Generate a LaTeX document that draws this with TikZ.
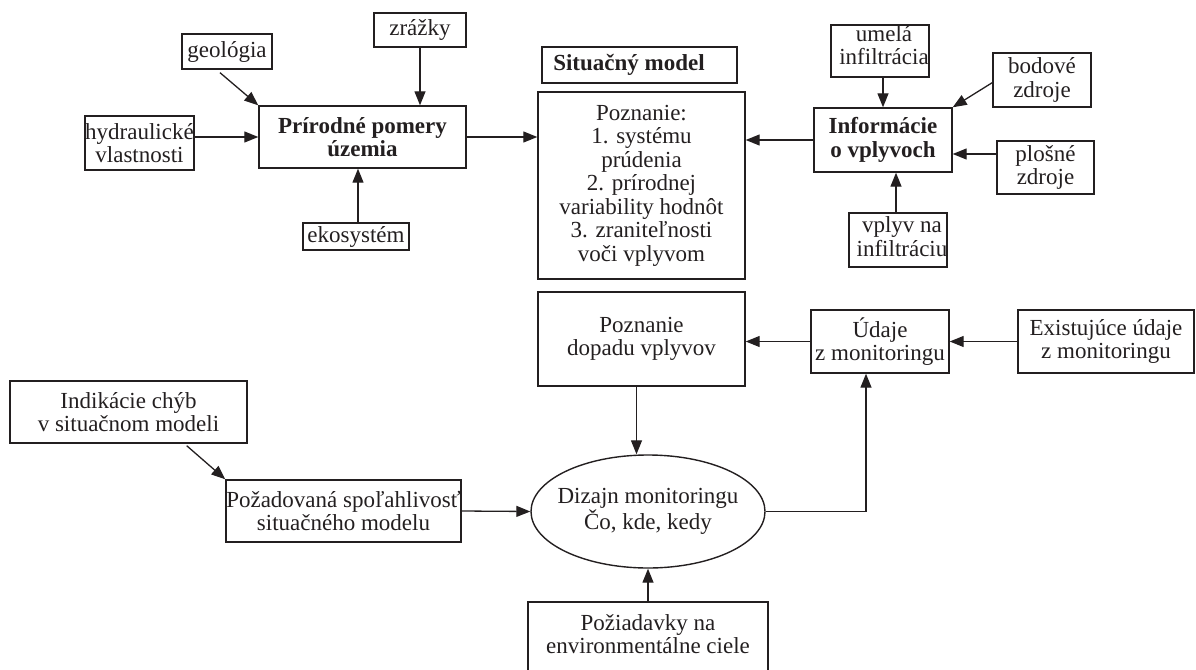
\documentclass[tikz,border=0pt]{standalone}
\usepackage{fontspec}
\setmainfont{Liberation Serif}
\usetikzlibrary{arrows.meta,calc,shapes.geometric}
\definecolor{ink}{RGB}{35,31,32}
\tikzset{
  box/.style 2 args={rectangle, draw=ink, line width=1.4pt, minimum width=#1pt, minimum height=#2pt, inner sep=0pt},
  oval/.style 2 args={ellipse, draw=ink, line width=1.4pt, minimum width=#1pt, minimum height=#2pt, inner sep=0pt},
  txt/.style={font=\fontsize{23}{23.5}\selectfont, text=ink, align=center, inner sep=0pt},
  txtb/.style={txt, font=\fontsize{23}{23.5}\selectfont\bfseries},
  conn/.style={draw=ink, line width=1.3pt, -{Triangle[length=14pt,width=11pt]}}
}
\begin{document}
\begin{tikzpicture}[x=1pt,y=-1pt]
\useasboundingbox (0,0) rectangle (1196,669);

% --- natural conditions and their inputs
\node[box={90}{35}, label={[txt]center:{geológia}}] (geo) at (227,51.5) {};
\node[box={109}{54}, label={[txt]center:{hydraulické\\vlastnosti}}] (hyd) at (139.5,143) {};
\node[box={207}{62}, label={[txtb]center:{Prírodné pomery\\územia}}] (prir) at (362.5,137) {};
\node[box={92}{34}, label={[txt]center:{zrážky}}] (zraz) at (420,30) {};
\node[box={106}{27}, label={[txt]center:{ekosystém}}] (eko) at (356,236.5) {};

% --- situation model
\node[box={195}{36}, label={[txtb,xshift=-10.5pt]center:{Situačný model}}] (sit) at (639.5,65) {};
\node[box={207}{187}, label={[txt]center:{Poznanie:\\1. systému\\prúdenia\\2. prírodnej\\variability hodnôt\\3. zraniteľnosti\\voči vplyvom}}] (pozn) at (641.5,185.5) {};

% --- information on impacts and their inputs
\node[box={138}{64}, label={[txtb]center:{Informácie\\o vplyvoch}}] (info) at (883,140) {};
\node[box={98}{52}, label={[txt,xshift=4pt,yshift=6pt]center:{umelá\\infiltrácia}}] (umela) at (880,51) {};
\node[box={98}{54}, label={[txt]center:{bodové\\zdroje}}] (bod) at (1042,80) {};
\node[box={97}{53}, label={[txt]center:{plošné\\zdroje}}] (plos) at (1045.5,167.5) {};
\node[box={98}{54}, label={[txt,xshift=4pt,yshift=3.5pt]center:{vplyv na\\infiltráciu}}] (vpl) at (898,240) {};

% --- monitoring loop
\node[box={207}{94}, label={[txt]center:{Poznanie\\dopadu vplyvov}}] (dop) at (641.5,339) {};
\node[box={138}{63}, label={[txt]center:{Údaje\\z monitoringu}}] (uda) at (880,341.5) {};
\node[box={176}{63}, label={[txt]center:{Existujúce údaje\\z monitoringu}}] (exi) at (1106,341.5) {};
\node[box={237}{62}, label={[txt]center:{Indikácie chýb\\v situačnom modeli}}] (ind) at (128.5,412) {};
\node[box={235}{62}, label={[txt]center:{Požadovaná spoľahlivosť\\situačného modelu}}] (poz) at (343.5,511) {};
\node[oval={234}{113}, label={[txt]center:{Dizajn monitoringu\\Čo, kde, kedy}}] (ell) at (648,511.5) {};
\node[box={240}{70}, label={[txt,yshift=3pt]center:{Požiadavky na\\environmentálne ciele}}] (ciele) at (648,637) {};

% --- connector end points that sit off the anchors
\coordinate (ekotop) at ($(eko.north)+(2,0)$);
\coordinate (vpltop) at ($(vpl.north)+(-2,0)$);
\coordinate (dopbot) at ($(dop.south)+(-5,0)$);
\coordinate (plosin) at ($(info.east)+(0,14)$);
\coordinate (udain) at ($(uda.south)+(-14,0)$);

% --- connectors, upper part
\draw[conn] ($(geo.south)+(-7,3)$) -- (prir.north west);
\draw[conn] (hyd.east |- prir.west) -- (prir.west);
\draw[conn] (zraz.south) -- (zraz.south |- prir.north);
\draw[conn] (ekotop) -- (ekotop |- prir.south);
\draw[conn] (prir.east) -- (prir.east -| pozn.west);
\draw[conn] (info.west) -- (info.west -| pozn.east);
\draw[conn] ($(umela.south)+(3,0)$) -- (info.north);
\draw[conn] ($(bod.west)+(1,2)$) -- (info.north east);
\draw[conn] (plos.west |- plosin) -- (plosin);
\draw[conn] (vpltop) -- (vpltop |- info.south);

% --- connectors, lower part
\draw[conn] (dopbot) -- (dopbot |- ell.north);
\draw[conn] (uda.west) -- (uda.west -| dop.east);
\draw[conn] (exi.west) -- (exi.west -| uda.east);
\draw[conn] (ell.east) -| (udain);
\draw[conn] ($(ind.south east)+(-61,2)$) -- (poz.north west);
\draw[conn] (poz.east) -- (ell.west);
\draw[conn] (ciele.north) -- (ell.south);
\end{tikzpicture}
\end{document}
